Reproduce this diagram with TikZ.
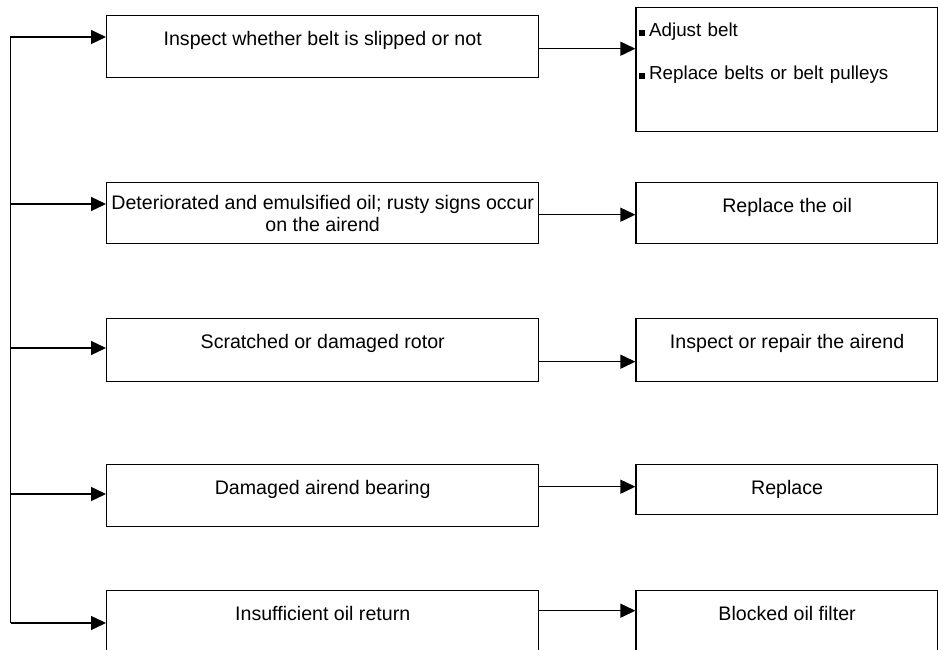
\documentclass[tikz,border=0pt]{standalone}
\usepackage{fontspec}
\setmainfont{Liberation Sans}
\usetikzlibrary{arrows.meta, positioning}

\begin{document}
\begin{tikzpicture}[
    x=1pt, y=-1pt,
    causebox/.style={
      draw=black,
      line width=1.4pt,
      anchor=north west,
      minimum width=432pt,
      inner sep=0pt,
      text height=29.5pt,
      align=center,
      font=\fontsize{19.6}{21}\selectfont,
    },
    fixbox/.style={causebox, minimum width=302pt},
    arr/.style={-{Triangle[length=15pt, width=14pt]}, line width=1.4pt},
  ]
  \useasboundingbox (0,0) rectangle (938,650);

  % causes
  \node[causebox, text depth=32.5pt] (c1) at (106,15) {Inspect whether belt is slipped or not};
  \node[causebox, text height=49pt, text depth=12pt] (c2) at (106,182) {Deteriorated and emulsified oil; rusty signs occur\\[1pt]on the airend};
  \node[causebox, text height=30pt, text depth=33pt] (c3) at (106,318) {Scratched or damaged rotor};
  \node[causebox, text height=30pt, text depth=32pt] (c4) at (106,464) {Damaged airend bearing};
  \node[causebox, text depth=32.5pt] (c5) at (106,590) {Insufficient oil return};

  % remedies
  \node[fixbox, align=left, text width=296pt, inner xsep=3pt, font=\fontsize{18.8}{21}\selectfont,
        text height=29pt, text depth=95pt] (f1) at ([xshift=96pt, yshift=8pt]c1.north east)
       {\raisebox{1pt}{\rule{6pt}{6pt}}\hspace{4pt}Adjust belt\\[22pt]\raisebox{1pt}{\rule{6pt}{6pt}}\hspace{4pt}Replace belts or belt pulleys};
  \node[fixbox, text depth=31.5pt] (f2) at ([xshift=96pt]c2.north east) {Replace the oil};
  \node[fixbox, text height=30pt, text depth=33pt] (f3) at ([xshift=96pt]c3.north east) {Inspect or repair the airend};
  \node[fixbox, text height=30pt, text depth=20pt] (f4) at ([xshift=96pt]c4.north east) {Replace};
  \node[fixbox, text depth=32.5pt] (f5) at ([xshift=96pt]c5.north east) {Blocked oil filter};

  \coordinate (b1) at (10.7,37);
  \coordinate (b2) at (10.7,204);
  \coordinate (b3) at (10.7,348);
  \coordinate (b4) at (10.7,494);
  \coordinate (b5) at (10.7,623);

  \draw[arr] (b5) -- (b1) -- (b1 -| c1.west);
  \draw[arr] (b2) -- (b2 -| c2.west);
  \draw[arr] (b3) -- (b3 -| c3.west);
  \draw[arr] (b4) -- (b4 -| c4.west);
  \draw[arr] (b5) -- (b5 -| c5.west);

  \draw[arr] ([yshift=-2pt]c1.east) -- ([yshift=-2pt]c1.east -| f1.west);
  \draw[arr] ([yshift=-1.5pt]c2.east) -- ([yshift=-1.5pt]c2.east -| f2.west);
  \draw[arr] ([yshift=-11.5pt]c3.east) -- ([yshift=-11.5pt]c3.east -| f3.west);
  \draw[arr] ([yshift=9pt]c4.east) -- ([yshift=9pt]c4.east -| f4.west);
  \draw[arr] ([yshift=11pt]c5.east) -- ([yshift=11pt]c5.east -| f5.west);
\end{tikzpicture}
\end{document}
